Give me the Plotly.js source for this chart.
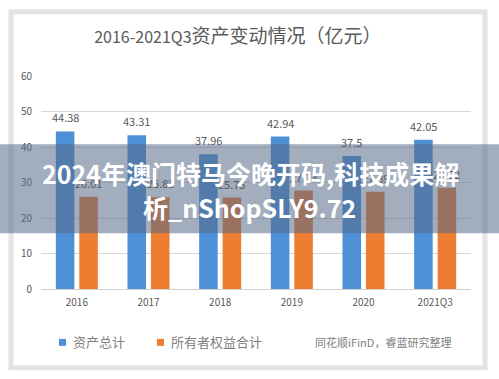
<!DOCTYPE html>
<html><head><meta charset="utf-8">
<script src="https://cdn.plot.ly/plotly-3.0.1.min.js"></script>
<style>html,body{margin:0;padding:0;background:#fff;}#chart{width:499px;height:379px;}</style>
</head><body><div id="chart"></div>
<script>
const categories = ['2016','2017','2018','2019','2020','2021Q3'];
const totalAssets = [44.38, 43.31, 37.96, 42.94, 37.5, 42.05];
const ownersEquity = [26.01, 25.83, 25.75, 27.73, 27.39, 28.52];
const seriesNames = ['资产总计', '所有者权益合计'];
const yTicks = [0, 10, 20, 30, 40, 50, 60];

const W = 499, H = 379;
const L = 41, R = 471, T = 75.5, B = 289;
const px = x => (x - L) / (R - L);
const py = y => (B - y) / (B - T);
const FONT = '"Noto Sans CJK SC", "Noto Sans", sans-serif';

const blue = '#4e90d6', orange = '#ee7d31';

const traces = [
  {type:'bar', x:categories, y:totalAssets, name:seriesNames[0], marker:{color:blue}},
  {type:'bar', x:categories, y:ownersEquity, name:seriesNames[1], marker:{color:orange}}
];

const shapes = [
  {type:'rect', xref:'paper', yref:'paper', x0:px(11), x1:px(485), y0:py(11), y1:py(368),
   line:{color:'#e4e4e4', width:5}, fillcolor:'rgba(0,0,0,0)', layer:'below'},
  {type:'rect', xref:'paper', yref:'paper', x0:px(59), x1:px(66), y0:py(339), y1:py(346),
   line:{width:0}, fillcolor:blue},
  {type:'rect', xref:'paper', yref:'paper', x0:px(157), x1:px(164), y0:py(339), y1:py(346),
   line:{width:0}, fillcolor:orange},
  {type:'rect', xref:'paper', yref:'paper', x0:px(0), x1:px(499), y0:py(144), y1:py(233),
   line:{width:0}, fillcolor:'rgba(86,106,136,0.55)', layer:'above'}
];

const labelFont = {size:11, color:'#595959', family:FONT};
const dataLabels = [];
categories.forEach((c, i) => {
  dataLabels.push({xref:'x', yref:'y', x:i, y:totalAssets[i], xshift:-11.7, yshift:14,
    yanchor:'middle', showarrow:false, text:String(totalAssets[i]), font:labelFont});
  dataLabels.push({xref:'x', yref:'y', x:i, y:ownersEquity[i], xshift:11.7, yshift:14,
    yanchor:'middle', showarrow:false, text:String(ownersEquity[i]), font:labelFont});
});

const annotations = dataLabels.concat([
  {xref:'paper', yref:'paper', x:px(71), y:py(342), xanchor:'left', yanchor:'middle', showarrow:false,
   text:seriesNames[0], font:{size:13, color:'#808080', family:FONT}},
  {xref:'paper', yref:'paper', x:px(169), y:py(342), xanchor:'left', yanchor:'middle', showarrow:false,
   text:seriesNames[1], font:{size:13, color:'#808080', family:FONT}},
  {xref:'paper', yref:'paper', x:px(313), y:py(342), xanchor:'left', yanchor:'middle', showarrow:false,
   text:'同花顺iFinD，睿蓝研究整理', font:{size:11, color:'#808080', family:FONT}},
  {xref:'paper', yref:'paper', x:px(250), y:py(173), xanchor:'center', yanchor:'middle', showarrow:false,
   text:'<b>2024年澳门特马今晚开码,科技成果解</b>', font:{size:25, color:'#ffffff', family:FONT}},
  {xref:'paper', yref:'paper', x:px(249), y:py(207), xanchor:'center', yanchor:'middle', showarrow:false,
   text:'<b>析_nShopSLY9.72</b>', font:{size:25, color:'#ffffff', family:FONT}}
]);

const layout = {
  width:W, height:H,
  margin:{l:L, r:W-R, t:T, b:H-B, pad:0},
  paper_bgcolor:'#ffffff', plot_bgcolor:'#ffffff',
  showlegend:false,
  barmode:'group', bargap:0.345, bargroupgap:0.21,
  title:{text:"2016-2021Q3<span style='font-size:19px'>资产变动情况（亿元）</span>",
         x:px(246), xanchor:'center', y:1-37/H, yanchor:'middle',
         font:{size:16, color:'#595959', family:FONT}},
  xaxis:{type:'category', categoryorder:'array', categoryarray:categories,
         range:[-0.5, categories.length - 0.5], autorange:false,
         showgrid:false, showline:false, ticks:'',
         tickfont:{size:10, color:'#595959', family:FONT}, ticklabelstandoff:6},
  yaxis:{range:[0,60], autorange:false, tickvals:yTicks, showgrid:true, gridcolor:'#d9d9d9', gridwidth:1,
         zeroline:true, zerolinecolor:'#d0d0d0', zerolinewidth:1, showline:false, ticks:'',
         tickfont:{size:10, color:'#595959', family:FONT}, ticklabelstandoff:8},
  shapes, annotations
};

Plotly.newPlot('chart', traces, layout, {displayModeBar:false, staticPlot:true});
</script></body></html>
